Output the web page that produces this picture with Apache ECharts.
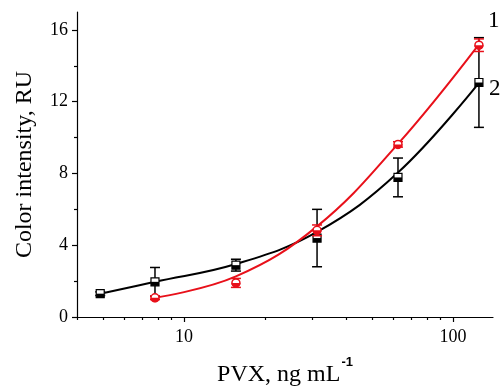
<!DOCTYPE html>
<html>
<head>
<meta charset="utf-8">
<script src="https://cdn.jsdelivr.net/npm/echarts@6/dist/echarts.min.js"></script>
<style>
  html, body { margin: 0; padding: 0; background: #fff; }
  #chart { width: 504px; height: 391px; }
</style>
</head>
<body>
<div id="chart"></div>
<script>
// concentrations, ng/mL (log scale)
const conc2 = [4.88, 7.8, 15.6, 31.25, 62.5, 125];
const conc1 = [7.8, 15.6, 31.25, 62.5, 125];

// curve 1 (red, circles)
const values1 = [1.07, 1.9, 4.83, 9.62, 15.15];
const errors1 = [0.1, 0.25, 0.3, 0.15, 0.35];
const fit1 = [1.07, 2.26, 5.05, 9.65, 15.2];

// curve 2 (black, squares)
const values2 = [1.3, 1.96, 2.89, 4.4, 7.78, 13.07];
const errors2 = [0.1, 0.8, 0.33, 1.6, 1.08, 2.5];
const fit2 = [1.3, 1.96, 2.95, 4.74, 8.05, 13.05];

const xMajorTicks = [10, 100];
const xMinorTicks = [4, 5, 6, 7, 8, 9, 20, 30, 40, 50, 60, 70, 80, 90];
const yMajorTicks = [0, 4, 8, 12, 16];
const yMinorTicks = [2, 6, 10, 14];
const curveLabels = ['1', '2'];

const red = '#e8101a';
const black = '#000';
const serif = '"Liberation Serif", "Times New Roman", serif';

const chart = echarts.init(document.getElementById('chart'));

function pairs(xs, ys, es) {
    return xs.map((x, i) => es ? [x, ys[i], es[i]] : [x, ys[i]]);
}

// error bar + half-filled marker
function markerRenderer(color, shape) {
    return function (params, api) {
        const x = api.value(0), y = api.value(1), e = api.value(2);
        const c = api.coord([x, y]);
        const top = api.coord([x, y + e]);
        const bot = api.coord([x, y - e]);
        const cap = 5;
        const line = { stroke: color, lineWidth: 1.5 };
        const children = [
            { type: 'line', shape: { x1: c[0], y1: top[1], x2: c[0], y2: bot[1] }, style: line },
            { type: 'line', shape: { x1: c[0] - cap, y1: top[1], x2: c[0] + cap, y2: top[1] }, style: line },
            { type: 'line', shape: { x1: c[0] - cap, y1: bot[1], x2: c[0] + cap, y2: bot[1] }, style: line }
        ];
        if (shape === 'square') {
            children.push(
                { type: 'rect', shape: { x: c[0] - 4, y: c[1] - 4, width: 8, height: 8 }, style: { fill: '#fff', stroke: color, lineWidth: 1.2 } },
                { type: 'rect', shape: { x: c[0] - 4, y: c[1], width: 8, height: 4 }, style: { fill: color } }
            );
        } else {
            children.push(
                { type: 'circle', shape: { cx: c[0], cy: c[1], r: 4 }, style: { fill: '#fff', stroke: color, lineWidth: 1.5 } },
                { type: 'sector', shape: { cx: c[0], cy: c[1], r: 4.5, r0: 0, startAngle: 0, endAngle: Math.PI }, style: { fill: color } }
            );
        }
        return { type: 'group', children: children };
    };
}

chart.setOption({
    animation: false,
    grid: { left: 77, right: 11, top: 12, bottom: 74, outerBoundsMode: 'none' },
    xAxis: [{
        type: 'log', logBase: 10, min: 4, max: 141,
        name: '{a|PVX, ng mL}{b|-1}', nameLocation: 'middle', nameGap: 44,
        nameTextStyle: {
            rich: {
                a: { fontFamily: serif, fontSize: 24, color: '#000', verticalAlign: 'bottom', lineHeight: 26 },
                b: { fontFamily: '"Liberation Sans", Arial, sans-serif', fontWeight: 'bold', fontSize: 13, color: '#000',
                     verticalAlign: 'bottom', lineHeight: 14, padding: [0, 0, 18, 1] }
            }
        },
        axisLine: { lineStyle: { color: '#000', width: 1.2 } },
        axisTick: { length: 5, lineStyle: { color: '#000', width: 1.2 }, customValues: xMajorTicks },
        axisLabel: { fontFamily: serif, fontSize: 18, color: '#000', margin: 11, customValues: xMajorTicks },
        splitLine: { show: false }
    }, {
        type: 'log', logBase: 10, min: 4, max: 141, position: 'bottom',
        axisLine: { show: false },
        axisTick: { length: 3, lineStyle: { color: '#000', width: 1.2 }, customValues: xMinorTicks },
        axisLabel: { show: false },
        splitLine: { show: false }
    }],
    yAxis: [{
        type: 'value', min: 0, max: 17,
        name: 'Color intensity, RU', nameLocation: 'middle', nameGap: 40,
        nameTextStyle: { fontFamily: serif, fontSize: 24, color: '#000' },
        axisLine: { show: true, lineStyle: { color: '#000', width: 1.2 } },
        axisTick: { show: true, length: 5, lineStyle: { color: '#000', width: 1.2 }, customValues: yMajorTicks },
        axisLabel: { fontFamily: serif, fontSize: 18, color: '#000', margin: 9, customValues: yMajorTicks },
        splitLine: { show: false }
    }, {
        type: 'value', min: 0, max: 17, position: 'left',
        axisLine: { show: false },
        axisTick: { show: true, length: 3, lineStyle: { color: '#000', width: 1.2 }, customValues: yMinorTicks },
        axisLabel: { show: false },
        splitLine: { show: false }
    }],
    series: [{
        name: 'fit 2', type: 'line', smooth: 0.4, symbol: 'none',
        lineStyle: { color: black, width: 2 }, z: 2,
        data: pairs(conc2, fit2)
    }, {
        name: 'fit 1', type: 'line', smooth: 0.4, symbol: 'none',
        lineStyle: { color: red, width: 2 }, z: 3,
        data: pairs(conc1, fit1)
    }, {
        name: 'curve 2', type: 'custom', z: 4,
        renderItem: markerRenderer(black, 'square'),
        encode: { x: 0, y: 1 },
        data: pairs(conc2, values2, errors2)
    }, {
        name: 'curve 1', type: 'custom', z: 5,
        renderItem: markerRenderer(red, 'circle'),
        encode: { x: 0, y: 1 },
        data: pairs(conc1, values1, errors1)
    }],
    graphic: [
        { type: 'text', left: 488, top: 9, style: { text: curveLabels[0], font: '23px ' + serif, fill: '#000' } },
        { type: 'text', left: 489, top: 77, style: { text: curveLabels[1], font: '23px ' + serif, fill: '#000' } }
    ]
});

window.addEventListener('resize', () => chart.resize());
</script>
</body>
</html>
